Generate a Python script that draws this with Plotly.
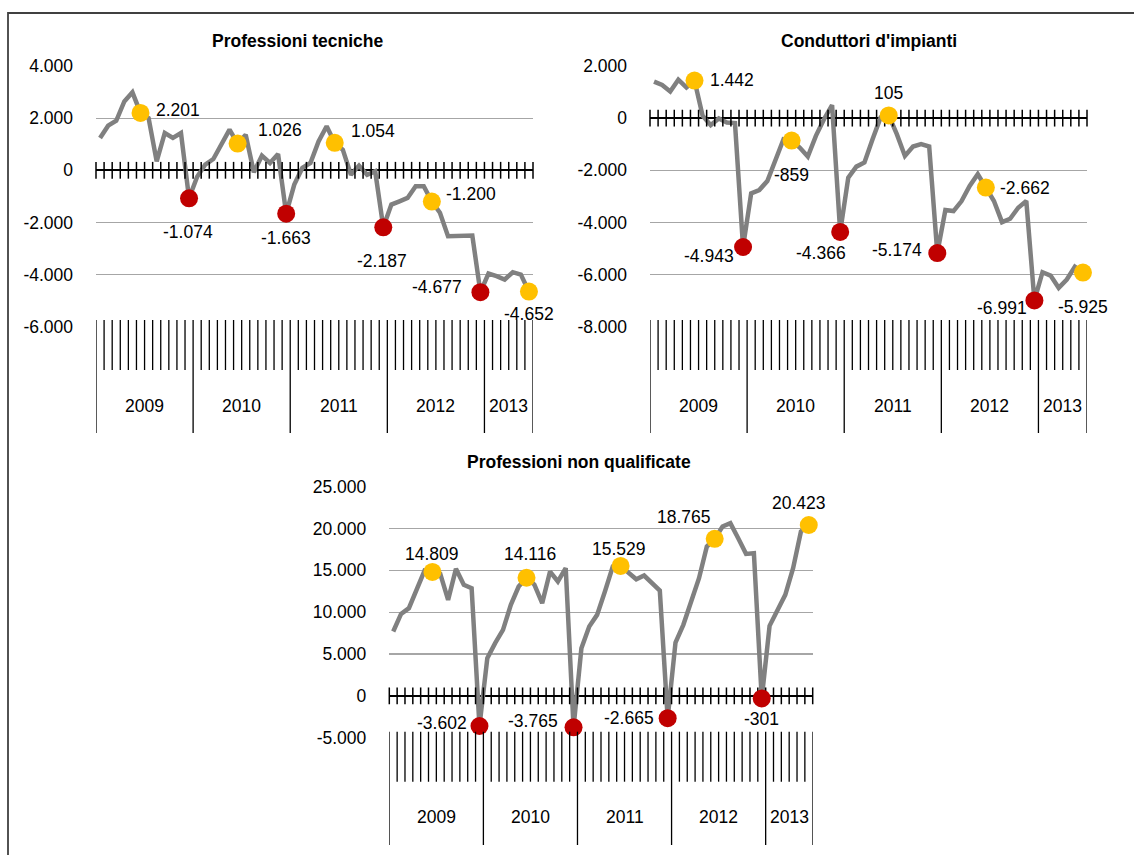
import plotly.graph_objects as go

W, H = 1134, 855

# ---------------- data ----------------
anni = ["2009", "2010", "2011", "2012", "2013"]
mesi_per_anno = [12, 12, 12, 12, 6]

tecniche = [1240, 1710, 1900, 2640, 2990, 2201, 2000, 345, 1430, 1240, 1430, -1074,
            -250, 217, 434, 983, 1558, 1026, 1366, -77, 560, 280, 625, -1663,
            -550, 90, 280, 1110, 1690, 1054, 790, -170, 180, -170, -40, -2187,
            -1315, -1190, -1060, -610, -610, -1200, -1630, -2530, -2530, -2500, -2500, -4677,
            -3960, -4060, -4190, -3910, -4000, -4652]

conduttori = [1400, 1270, 1025, 1475, 1180, 1442, 90, -270, -13, -170, -190, -4943,
              -2885, -2760, -2410, -1640, -810, -859, -1130, -1475, -680, -40, 500, -4366,
              -2280, -1860, -1700, -810, 25, 105, -615, -1450, -1090, -1000, -1090, -5174,
              -3525, -3565, -3180, -2600, -2150, -2662, -3180, -3990, -3860, -3435, -3180, -6991,
              -5910, -6040, -6510, -6190, -5700, -5925]

non_qualificate = [7690, 9800, 10480, 12670, 14980, 14809, 14580, 11470, 15180, 13270, 12870, -3602,
                   4500, 6300, 7890, 10880, 13070, 14116, 13300, 11080, 14860, 13670, 15260, -3765,
                   5700, 8290, 9680, 12470, 15460, 15529, 14740, 13940, 14380, 13550, 12590, -2665,
                   6370, 8490, 11270, 14060, 17850, 18765, 20240, 20640, 18840, 16970, 17050, -301,
                   8370, 10080, 12070, 15260, 19640, 20423]

titoli = ["Professioni tecniche", "Conduttori d'impianti", "Professioni non qualificate"]
yticks_tecniche = [-6000, -4000, -2000, 0, 2000, 4000]
yticks_conduttori = [-8000, -6000, -4000, -2000, 0, 2000]
yticks_nonqual = [-5000, 0, 5000, 10000, 15000, 20000, 25000]

# ---------------- styles / layout positions ----------------
FONT = "Liberation Sans, Arial, sans-serif"
LINE_COL = "#808080"
GIU_COL = "#FFC000"   # June markers
DIC_COL = "#C00000"   # December markers
GRID_COL = "#A6A6A6"
FS = 17.5

# label offsets for highlighted points (dx, dy px, anchor) in order of appearance
off_tecniche = [(13, -3, "left"), (-1, 34, "center"), (18, -14, "left"), (0, 24, "center"),
                (14, -12, "left"), (-1, 34, "center"), (12, -8, "left"), (-16, -5, "right"),
                (0, 22, "center")]
off_conduttori = [(13, -1, "left"), (-7, 9, "right"), (0, 34, "center"), (-19, 21, "center"),
                  (0, -22, "center"), (-13, -3, "right"), (12, 0, "left"), (-5, 8, "right"),
                  (0, 34, "center")]
off_nonqual = [(0, -18, "center"), (-10, -3, "right"), (3, -24, "center"), (-14, -6, "right"),
               (-2, -17, "center"), (-12, 0, "right"), (-31, -22, "center"), (0, 21, "center"),
               (-10, -22, "center")]

panels = [
    dict(data=tecniche, ticks=yticks_tecniche, off=off_tecniche, title=titoli[0],
         x0=96, x1=533, y0=66, y1=326.7, m0=320, m1=370, yr0=365, yr1=433, ylab=406,
         tx=297, ty=41),
    dict(data=conduttori, ticks=yticks_conduttori, off=off_conduttori, title=titoli[1],
         x0=650, x1=1087, y0=66, y1=326.7, m0=320, m1=370, yr0=365, yr1=433, ylab=406,
         tx=869, ty=41),
    dict(data=non_qualificate, ticks=yticks_nonqual, off=off_nonqual, title=titoli[2],
         x0=389.3, x1=812.7, y0=486.7, y1=737.7, m0=731.7, m1=781.7, yr0=773, yr1=845,
         ylab=816.7, tx=579, ty=462),
]


def fmt(v):
    s = f"{abs(v):,}".replace(",", ".")
    return ("-" if v < 0 else "") + s


def px(x):
    return x / W


def py(y):
    return 1 - y / H


fig = go.Figure()
shapes = []
annotations = []

n = sum(mesi_per_anno)
xs = list(range(n))
bounds = [k - 0.5 for k in range(n + 1)]
year_starts = [sum(mesi_per_anno[:i]) for i in range(len(mesi_per_anno))]
year_bounds = set(year_starts + [n])

for p_i, p in enumerate(panels):
    suf = "" if p_i == 0 else str(p_i + 1)
    xa, ya = "x" + suf, "y" + suf
    vals = p["data"]

    # main line
    fig.add_trace(go.Scatter(x=xs, y=vals, mode="lines", xaxis=xa, yaxis=ya,
                             line=dict(color=LINE_COL, width=4.5), showlegend=False,
                             hoverinfo="skip", cliponaxis=False))
    # zero-axis tick marks
    fig.add_trace(go.Scatter(x=bounds, y=[0] * len(bounds), mode="markers", xaxis=xa, yaxis=ya,
                             marker=dict(symbol="line-ns", size=12,
                                         line=dict(color="black", width=1.5)),
                             showlegend=False, hoverinfo="skip", cliponaxis=False))
    # highlighted markers (June / December)
    hi = [i for i in xs if i % 12 in (5, 11)]
    fig.add_trace(go.Scatter(x=hi, y=[vals[i] for i in hi], mode="markers", xaxis=xa, yaxis=ya,
                             marker=dict(size=18, color=[GIU_COL if i % 12 == 5 else DIC_COL for i in hi]),
                             showlegend=False, hoverinfo="skip", cliponaxis=False))
    for (i, (dx, dy, anc)) in zip(hi, p["off"]):
        annotations.append(dict(x=i, y=vals[i], xref=xa, yref=ya, text=fmt(vals[i]),
                                showarrow=False, xanchor=anc, yanchor="middle",
                                xshift=dx, yshift=-dy,
                                font=dict(family=FONT, size=FS, color="black")))

    fig.update_layout(**{
        ("xaxis" + suf): dict(domain=[px(p["x0"]), px(p["x1"])], range=[-0.5, n - 0.5],
                              anchor=ya, showgrid=False, zeroline=False, showticklabels=False,
                              ticks="", showline=False, fixedrange=True, automargin=False),
        ("yaxis" + suf): dict(domain=[py(p["y1"]), py(p["y0"])],
                              range=[p["ticks"][0], p["ticks"][-1]], anchor=xa,
                              tickvals=p["ticks"], ticktext=[fmt(t) for t in p["ticks"]],
                              showgrid=True, gridcolor=GRID_COL, gridwidth=1.2,
                              zeroline=True, zerolinecolor="black", zerolinewidth=2.2,
                              showline=False, ticks="", ticklabelstandoff=22,
                              tickfont=dict(family=FONT, size=FS, color="black"),
                              fixedrange=True, automargin=False),
    })

    # category axis (lower multi-level labels)
    for k, b in enumerate(bounds):
        top = p["m0"]
        bot = p["yr1"] if k in year_bounds else p["m1"]
        shapes.append(dict(type="line", xref=xa, yref="paper", x0=b, x1=b,
                           y0=py(top), y1=py(bot), line=dict(color="black", width=1.3)))
    for yi, (lab, start) in enumerate(zip(anni, year_starts)):
        c = start + mesi_per_anno[yi] / 2 - 0.5
        annotations.append(dict(x=c, y=py(p["ylab"]), xref=xa, yref="paper", text=lab,
                                showarrow=False, xanchor="center", yanchor="middle",
                                font=dict(family=FONT, size=FS, color="black")))
    # title
    annotations.append(dict(x=px(p["tx"]), y=py(p["ty"]), xref="paper", yref="paper",
                            text="<b>" + p["title"] + "</b>", showarrow=False,
                            xanchor="center", yanchor="middle",
                            font=dict(family=FONT, size=17.5, color="black")))

# outer frame
shapes.append(dict(type="rect", xref="paper", yref="paper", x0=px(8), x1=1.05,
                   y0=-0.05, y1=py(13), line=dict(color="#404040", width=1.8)))

fig.update_layout(template="none", width=W, height=H, autosize=False,
                  margin=dict(l=0, r=0, t=0, b=0, pad=0),
                  paper_bgcolor="white", plot_bgcolor="white",
                  shapes=shapes, annotations=annotations, showlegend=False,
                  font=dict(family=FONT, color="black"))

fig.write_html(
    "out.html",
    config={"displayModeBar": False, "staticPlot": True},
    post_script=("document.body.style.margin='0';document.body.style.overflow='hidden';"
                 "var d=document.getElementById('{plot_id}');d.style.position='absolute';"
                 "d.style.top='0px';d.style.left='0px';"),
)
